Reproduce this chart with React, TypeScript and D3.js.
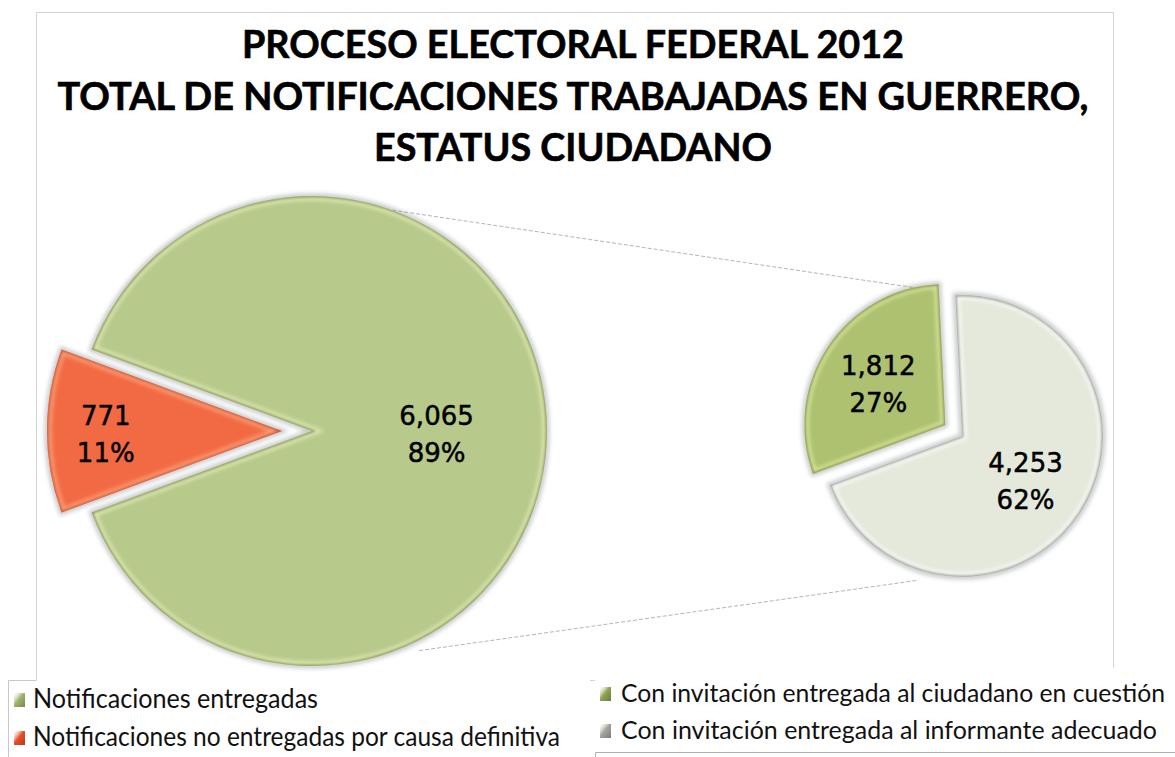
import React from 'react'
import * as d3 from 'd3'

// chart data
const titleLines = [
  'PROCESO ELECTORAL FEDERAL 2012',
  'TOTAL DE NOTIFICACIONES TRABAJADAS EN GUERRERO,',
  'ESTATUS CIUDADANO',
]
const mainCategories = ['Notificaciones entregadas', 'Notificaciones no entregadas por causa definitiva']
const mainValues = [6065, 771]
const detailCategories = [
  'Con invitación entregada al ciudadano en cuestión',
  'Con invitación entregada al informante adecuado',
]
const detailValues = [1812, 4253]

const W = 1175
const H = 757
const rad = (deg: number) => (deg * Math.PI) / 180

const mainColors = ['#b7c98b', '#f26a43']
const mainRims = ['#6e7d40', '#b8452a']
const mainGlows = ['#eef5c0', '#ffb08a']
const detailColors = ['#adc170', '#e4e9dc']
const detailRims = ['#6f7f3a', '#7d8278']
const detailGlows = ['#e8f2a8', '#ffffff']
const legendColors = ['#9fb46a', '#e8502c', '#8fa552', '#a3a69e']

const total = d3.sum(mainValues)
const fmtValue = d3.format(',')
const fmtPct = d3.format('.0%')

const big = { cx: 312, cy: 431, r: 235 }
const small = { cx: 962, cy: 436, r: 141 }

type Slice = d3.PieArcDatum<number>

function explode(a: Slice, dist: number) {
  const mid = (a.startAngle + a.endAngle) / 2
  return [Math.sin(mid) * dist, -Math.cos(mid) * dist]
}

function polar(cx: number, cy: number, r: number, angle: number) {
  return [cx + Math.sin(angle) * r, cy - Math.cos(angle) * r]
}

const PieSlice = ({ id, a, cx, cy, r, offset, color, rim, glow, labelRatio }: any) => {
  const arc = d3.arc<Slice>().innerRadius(0).outerRadius(r)
  const d = arc(a) || ''
  const [dx, dy] = explode(a, offset)
  const labelArc = d3.arc<Slice>().innerRadius(r * labelRatio).outerRadius(r * labelRatio)
  const [lx, ly] = labelArc.centroid(a)
  return (
    <g transform={`translate(${cx + dx},${cy + dy})`}>
      <clipPath id={`clip-${id}`}>
        <path d={d} />
      </clipPath>
      <path d={d} fill="none" stroke="#7f858c" strokeWidth={5} opacity={0.45} filter="url(#soft)" />
      <path d={d} fill={color} />
      <path d={d} fill="none" stroke={glow} strokeWidth={9} opacity={0.7} clipPath={`url(#clip-${id})`} filter="url(#soft)" />
      <path d={d} fill="none" stroke={rim} strokeWidth={3} opacity={0.7} clipPath={`url(#clip-${id})`} filter="url(#thin)" />
      <text x={lx} y={ly - 6} textAnchor="middle" fontFamily="DejaVu Sans" fontSize={26} fill="#000" stroke="#000" strokeWidth={0.5}>
        {fmtValue(a.data)}
      </text>
      <text x={lx} y={ly + 31} textAnchor="middle" fontFamily="DejaVu Sans" fontSize={26} fill="#000" stroke="#000" strokeWidth={0.5}>
        {fmtPct(a.data / total)}
      </text>
    </g>
  )
}

const LegendMarker = ({ x, y, color, id }: any) => (
  <g>
    <linearGradient id={`lg-${id}`} x1="0" y1="0" x2="1" y2="1">
      <stop offset="0" stopColor="#ffffff" stopOpacity={0.3} />
      <stop offset="0.45" stopColor={color} />
      <stop offset="1" stopColor={d3.color(color)!.darker(0.8).toString()} />
    </linearGradient>
    <rect x={x} y={y} width={11} height={14} fill={`url(#lg-${id})`} />
  </g>
)

export default function App() {
  const redAngle = (2 * Math.PI * mainValues[1]) / total
  const mainStart = -Math.PI / 2 + redAngle / 2
  const mainPie = d3.pie<number>().sort(null).startAngle(mainStart).endAngle(mainStart + 2 * Math.PI)
  const mainArcs = mainPie(mainValues)

  const detailStart = rad(-110.3)
  const detailPie = d3.pie<number>().sort(null).startAngle(detailStart).endAngle(detailStart + 2 * Math.PI)
  const detailArcs = detailPie(detailValues)

  const mainOffsets = [0, 30]
  const mainLabelRatio = [0.53, 0.75]
  const detailOffsets = [20, 0]
  const detailLabelRatio = [0.57, 0.54]

  // connector lines between the two pies
  const [dOx, dOy] = explode(detailArcs[0], detailOffsets[0])
  const topA = polar(big.cx, big.cy, big.r, rad(20))
  const topB = polar(small.cx + dOx, small.cy + dOy, small.r, rad(-13))
  const botA = polar(big.cx, big.cy, big.r * 1.04, rad(154))
  const botB = polar(small.cx, small.cy, small.r * 1.07, rad(197))

  return (
    <svg width={W} height={H} style={{ position: 'absolute', left: 0, top: 0, background: '#fff' }}>
      <defs>
        <filter id="soft" x="-10%" y="-10%" width="120%" height="120%">
          <feGaussianBlur stdDeviation={2} />
        </filter>
        <filter id="thin" x="-10%" y="-10%" width="120%" height="120%">
          <feGaussianBlur stdDeviation={0.8} />
        </filter>
      </defs>

      {/* chart area border */}
      <rect x={36.5} y={12.5} width={1077} height={668} fill="#fff" stroke="#d4d4d4" />

      {titleLines.map((t, i) => (
        <text
          key={t}
          x={573}
          y={[58, 110, 161][i]}
          textAnchor="middle"
          fontFamily="Lato, 'Open Sans', sans-serif"
          fontWeight={700}
          fontSize={39}
          fill="#000"
          stroke="#000"
          strokeWidth={0.6}
          textLength={[662, 1031, 398][i]}
          lengthAdjust="spacingAndGlyphs"
        >
          {t}
        </text>
      ))}

      <line x1={topA[0]} y1={topA[1]} x2={topB[0]} y2={topB[1]} stroke="#b5b5b5" strokeWidth={1} strokeDasharray="4 2" />
      <line x1={botA[0]} y1={botA[1]} x2={botB[0]} y2={botB[1]} stroke="#b5b5b5" strokeWidth={1} strokeDasharray="4 2" />

      {mainArcs.map((a, i) => (
        <PieSlice
          key={mainCategories[i]}
          id={`m${i}`}
          a={a}
          cx={big.cx}
          cy={big.cy}
          r={big.r}
          offset={mainOffsets[i]}
          color={mainColors[i]}
          rim={mainRims[i]}
          glow={mainGlows[i]}
          labelRatio={mainLabelRatio[i]}
        />
      ))}
      {detailArcs.map((a, i) => (
        <PieSlice
          key={detailCategories[i]}
          id={`d${i}`}
          a={a}
          cx={small.cx}
          cy={small.cy}
          r={small.r}
          offset={detailOffsets[i]}
          color={detailColors[i]}
          rim={detailRims[i]}
          glow={detailGlows[i]}
          labelRatio={detailLabelRatio[i]}
        />
      ))}

      {/* legend boxes */}
      <rect x={8} y={680} width={582} height={80} fill="#fff" />
      <path d="M8.5,757 V680.5 H36.5" fill="none" stroke="#c8c8c8" />
      <rect x={595} y={668} width={580} height={84} fill="#fff" />
      <path d="M595.5,757 V752.5 H1175" fill="none" stroke="#b0b0b0" />

      {mainCategories.map((c, i) => (
        <g key={c}>
          <LegendMarker id={`lm${i}`} x={14} y={[693, 731][i]} color={legendColors[i]} />
          <text
            x={33}
            y={[708, 746][i]}
            fontFamily="Lato, 'Open Sans', sans-serif"
            fontSize={26}
            fill="#111"
            textLength={[285, 527][i]}
            lengthAdjust="spacingAndGlyphs"
          >
            {c}
          </text>
        </g>
      ))}
      {detailCategories.map((c, i) => (
        <g key={c}>
          <LegendMarker id={`ld${i}`} x={600} y={[687, 724][i]} color={legendColors[i + 2]} />
          <text
            x={621}
            y={[702, 739][i]}
            fontFamily="Lato, 'Open Sans', sans-serif"
            fontSize={25}
            fill="#111"
            textLength={[544, 536][i]}
            lengthAdjust="spacingAndGlyphs"
          >
            {c}
          </text>
        </g>
      ))}
    </svg>
  )
}
